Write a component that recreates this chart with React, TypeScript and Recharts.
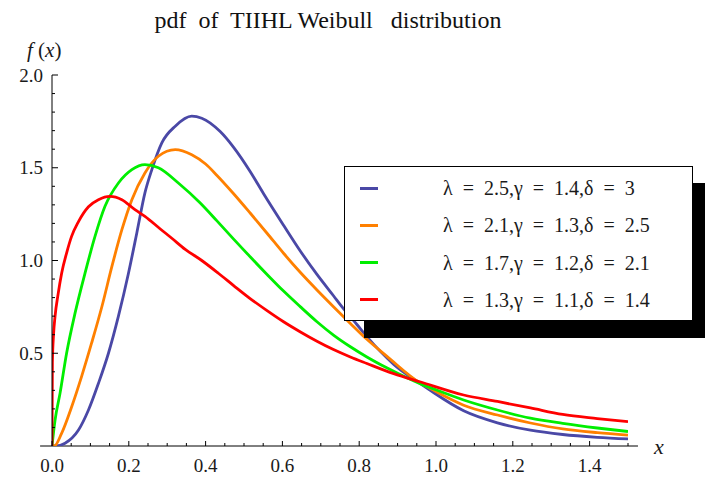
import React from "react";
import {
  LineChart,
  Line,
  XAxis,
  YAxis,
  Legend,
  ReferenceLine
} from "recharts";

// values
const blueX = [0, 0.01, 0.034, 0.069, 0.095, 0.121, 0.147, 0.173, 0.199, 0.221, 0.242, 0.26, 0.286, 0.321, 0.364, 0.39, 0.438, 0.473, 0.516, 0.551, 0.603, 0.647, 0.69, 0.733, 0.759, 0.794, 0.82, 0.855, 0.89, 0.96, 0.985, 1.072, 1.16, 1.246, 1.33, 1.42, 1.5];
const blueY = [0, 0, 0.015, 0.086, 0.194, 0.338, 0.5, 0.7, 0.93, 1.15, 1.365, 1.49, 1.634, 1.724, 1.778, 1.767, 1.695, 1.61, 1.48, 1.36, 1.19, 1.05, 0.925, 0.81, 0.74, 0.655, 0.59, 0.51, 0.44, 0.335, 0.3, 0.19, 0.125, 0.085, 0.062, 0.047, 0.038];

const orangeX = [0, 0.006, 0.025, 0.051, 0.077, 0.103, 0.13, 0.156, 0.182, 0.208, 0.242, 0.277, 0.321, 0.364, 0.4, 0.429, 0.473, 0.516, 0.56, 0.603, 0.647, 0.69, 0.733, 0.777, 0.82, 0.873, 0.96, 0.985, 1.072, 1.16, 1.246, 1.33, 1.42, 1.5];
const orangeY = [0, 0, 0.068, 0.21, 0.374, 0.554, 0.752, 0.968, 1.166, 1.328, 1.472, 1.562, 1.598, 1.57, 1.52, 1.46, 1.36, 1.256, 1.147, 1.039, 0.935, 0.841, 0.751, 0.661, 0.575, 0.482, 0.338, 0.31, 0.22, 0.167, 0.124, 0.092, 0.072, 0.059];

const greenX = [0, 0.008, 0.021, 0.038, 0.06, 0.086, 0.112, 0.138, 0.173, 0.208, 0.242, 0.277, 0.329, 0.386, 0.429, 0.473, 0.516, 0.56, 0.603, 0.647, 0.69, 0.733, 0.777, 0.82, 0.873, 0.96, 0.985, 1.072, 1.16, 1.246, 1.33, 1.42, 1.5];
const greenY = [0, 0.14, 0.285, 0.5, 0.716, 0.932, 1.13, 1.292, 1.418, 1.49, 1.517, 1.5, 1.418, 1.31, 1.215, 1.115, 1.02, 0.925, 0.835, 0.75, 0.67, 0.598, 0.535, 0.48, 0.42, 0.335, 0.315, 0.248, 0.194, 0.15, 0.122, 0.097, 0.078];

const redX = [0, 0.001, 0.004, 0.008, 0.016, 0.025, 0.038, 0.051, 0.069, 0.095, 0.121, 0.151, 0.182, 0.216, 0.242, 0.282, 0.312, 0.347, 0.39, 0.434, 0.473, 0.516, 0.56, 0.603, 0.647, 0.69, 0.733, 0.777, 0.82, 0.89, 0.96, 1.072, 1.16, 1.246, 1.33, 1.42, 1.5];
const redY = [0, 0.45, 0.6, 0.7, 0.82, 0.93, 1.04, 1.13, 1.21, 1.29, 1.328, 1.346, 1.328, 1.274, 1.238, 1.17, 1.12, 1.06, 1.0, 0.93, 0.865, 0.795, 0.73, 0.67, 0.615, 0.565, 0.52, 0.48, 0.445, 0.39, 0.345, 0.275, 0.24, 0.205, 0.17, 0.148, 0.131];

const seriesNames = [
  "λ = 2.5,γ = 1.4,δ = 3",
  "λ = 2.1,γ = 1.3,δ = 2.5",
  "λ = 1.7,γ = 1.2,δ = 2.1",
  "λ = 1.3,γ = 1.1,δ = 1.4"
];

const xMajor = [0, 0.2, 0.4, 0.6, 0.8, 1.0, 1.2, 1.4];
const xLabels = ["0.0", "0.2", "0.4", "0.6", "0.8", "1.0", "1.2", "1.4"];
const yMajor = [0.5, 1.0, 1.5, 2.0];
const yLabels = ["0.5", "1.0", "1.5", "2.0"];

const xTicks: number[] = [];
for (let i = 0; i <= 30; i++) xTicks.push(+(i * 0.05).toFixed(2));
const yTicks: number[] = [];
for (let i = 1; i <= 20; i++) yTicks.push(+(i * 0.1).toFixed(1));

const zip = (xs: number[], ys: number[]) => xs.map((x, i) => ({ x, y: ys[i] }));

const FONT = "'Liberation Serif', 'Times New Roman', serif";

const XTick = (props: any) => {
  const { x, y, payload } = props;
  const idx = xMajor.findIndex((v) => Math.abs(v - payload.value) < 1e-6);
  const major = idx >= 0;
  return (
    <g>
      <line x1={x} x2={x} y1={y} y2={y - (major ? 5 : 3)} stroke="#000" />
      {major && (
        <text x={x} y={y + 26} textAnchor="middle" fontFamily={FONT} fontSize={19} fill="#1a1a1a">
          {xLabels[idx]}
        </text>
      )}
    </g>
  );
};

const YTick = (props: any) => {
  const { x, y, payload } = props;
  const idx = yMajor.findIndex((v) => Math.abs(v - payload.value) < 1e-6);
  const major = idx >= 0;
  return (
    <g>
      <line x1={x} x2={x + (major ? 6 : 3)} y1={y} y2={y} stroke="#000" />
      {major && (
        <text x={x - 9} y={y + 6.5} textAnchor="end" fontFamily={FONT} fontSize={19} fill="#1a1a1a">
          {yLabels[idx]}
        </text>
      )}
    </g>
  );
};

const LegendBox = (props: any) => {
  const items = [...(props.payload || [])].sort(
    (a: any, b: any) => seriesNames.indexOf(a.value) - seriesNames.indexOf(b.value)
  );
  return (
    <div
      style={{
        boxSizing: "border-box",
        width: 349,
        height: 155,
        border: "1px solid #000",
        background: "#fff",
        boxShadow: "20px 17px 0 #000",
        position: "relative",
        fontFamily: FONT,
        fontSize: 20,
        color: "#1a1a1a"
      }}
    >
      {items.map((p: any, i: number) => (
        <div key={i} style={{ position: "absolute", left: 0, top: 8 + i * 37.3, height: 26, width: "100%" }}>
          <div style={{ position: "absolute", left: 15, top: 11.5, width: 18, height: 3, background: p.color }} />
          <div style={{ position: "absolute", left: 98, top: 0, lineHeight: "26px", whiteSpace: "pre", wordSpacing: 5 }}>
            {p.value}
          </div>
        </div>
      ))}
    </div>
  );
};

export default function App() {
  return (
    <div style={{ position: "absolute", left: 0, top: 0, width: 705, height: 481, background: "#fff" }}>
      <div
        style={{
          position: "absolute",
          left: 128,
          width: 400,
          top: 7,
          textAlign: "center",
          fontFamily: FONT,
          fontSize: 24,
          lineHeight: "26px",
          whiteSpace: "pre",
          color: "#111"
        }}
      >
        {"pdf  of  TIIHL Weibull   distribution"}
      </div>
      <div style={{ position: "absolute", left: 27, top: 37, fontFamily: FONT, fontSize: 21, lineHeight: "26px", color: "#1a1a1a" }}>
        <i>f</i> (<i>x</i>)
      </div>
      <div style={{ position: "absolute", left: 654, top: 434, fontFamily: FONT, fontSize: 22, lineHeight: "26px", color: "#1a1a1a" }}>
        <i>x</i>
      </div>

      <LineChart width={705} height={481} margin={{ top: 75, right: 77, bottom: 0, left: 0 }}>
        <XAxis
          type="number"
          dataKey="x"
          domain={[0, 1.5]}
          ticks={xTicks}
          interval={0}
          tick={<XTick />}
          tickSize={0}
          tickMargin={0}
          tickLine={false}
          axisLine={false}
          height={35}
          allowDataOverflow
        />
        <YAxis
          type="number"
          domain={[0, 2]}
          ticks={yTicks}
          interval={0}
          tick={<YTick />}
          tickSize={0}
          tickMargin={0}
          tickLine={false}
          axisLine={{ stroke: "#000" }}
          width={52}
          allowDataOverflow
        />
        <ReferenceLine
          segment={[{ x: -0.031, y: 0 }, { x: 1.526, y: 0 }]}
          stroke="#000"
          ifOverflow="visible"
        />
        <Line data={zip(blueX, blueY)} dataKey="y" name={seriesNames[0]} type="monotone" stroke="#4a48a6" strokeWidth={2.8} dot={false} isAnimationActive={false} />
        <Line data={zip(orangeX, orangeY)} dataKey="y" name={seriesNames[1]} type="monotone" stroke="#ff8000" strokeWidth={2.8} dot={false} isAnimationActive={false} />
        <Line data={zip(greenX, greenY)} dataKey="y" name={seriesNames[2]} type="monotone" stroke="#00ee00" strokeWidth={2.8} dot={false} isAnimationActive={false} />
        <Line data={zip(redX, redY)} dataKey="y" name={seriesNames[3]} type="monotone" stroke="#ff0000" strokeWidth={2.8} dot={false} isAnimationActive={false} />
        <Legend
          layout="horizontal"
          verticalAlign="middle"
          align="center"
          content={<LegendBox />}
          wrapperStyle={{ left: 344, top: 166, width: 349, height: 155 }}
        />
      </LineChart>
    </div>
  );
}
